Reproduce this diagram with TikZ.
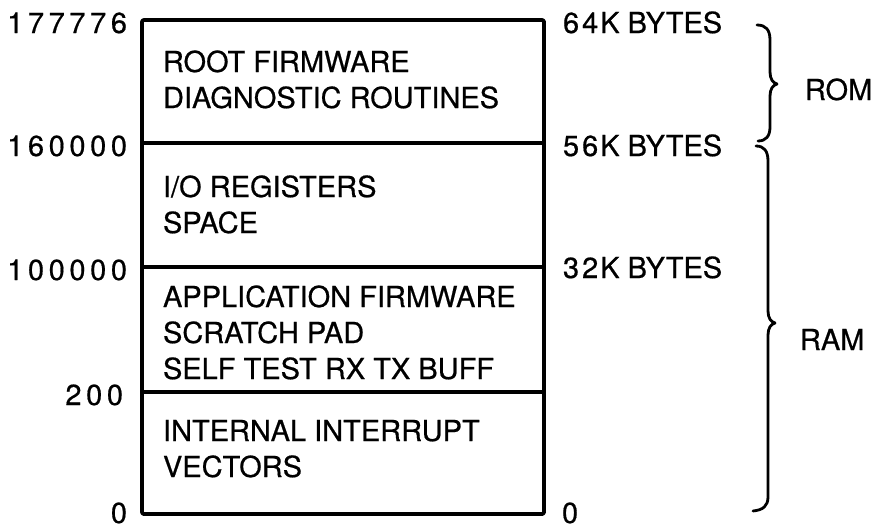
\documentclass[tikz,border=0pt]{standalone}
\usepackage{fontspec}
\setmainfont{TeX Gyre Heros}[FakeBold=0.6]
\makeatletter
% digits of the addresses are set with a little extra tracking
\newcommand\widenum[1]{\def\wn@sep{}\@tfor\wn@d:=#1\do{\wn@sep\wn@d\def\wn@sep{\kern4.6pt}}}
\makeatother
\newcommand\kb[2]{#1\kern3pt#2\kern2pt K BYTES}
\begin{document}
\begin{tikzpicture}[x=1pt,y=-1pt,
  every node/.style={inner sep=0pt,outer sep=0pt,font=\fontsize{29}{36}\selectfont},
  frame/.style={line width=3.8pt,line join=round,line cap=round},
  bracepath/.style={line width=2.8pt,line cap=round,line join=round},
  addr/.style={anchor=base east},
  size/.style={anchor=base west},
  region/.style={anchor=base west,align=left},
]
\useasboundingbox (0,0) rectangle (873,528);

% memory map boundaries (top to bottom)
\coordinate (a0) at (142,20);  \coordinate (b0) at (544,20);
\coordinate (a1) at (142,143); \coordinate (b1) at (544,143);
\coordinate (a2) at (142,267); \coordinate (b2) at (544,267);
\coordinate (a3) at (142,392); \coordinate (b3) at (544,392);
\coordinate (a4) at (142,514); \coordinate (b4) at (544,514);

\draw[frame,rounded corners=2pt] (a0) -- (b0) -- (b4) -- (a4) -- cycle;
\draw[frame] (a1) -- (b1);
\draw[frame] (a2) -- (b2);
\draw[frame] (a3) -- (b3);

% octal addresses on the left
\node[addr] (adr0) at (127,33)  {\widenum{177776}};
\node[addr] (adr1) at (127,156) {\widenum{160000}};
\node[addr] (adr2) at (127,280) {\widenum{100000}};
\node[addr] (adr3) at (123,405) {\widenum{200}};
\node[addr] (adr4) at (127,523) {0};

% byte sizes on the right
\node[size] (sz0) at (563,33)  {\kb{6}{4}};
\node[size] (sz1) at (563,156) {\kb{5}{6}};
\node[size] (sz2) at (563,278) {\kb{3}{2}};
\node[size] (sz3) at (562,523) {0};

% contents of each region (anchored on the baseline of the last line)
\node[region] (r0) at (163,108) {ROOT FIRMWARE\\DIAGNOSTIC ROUTINES};
\node[region] (r1) at (163,233) {I/O REGISTERS\\SPACE};
\node[region] (r2) at (163,379) {APPLICATION FIRMWARE\\SCRATCH PAD\\SELF TEST RX TX BUFF};
\node[region] (r3) at (163,477) {INTERNAL INTERRUPT\\VECTORS};

% ROM brace
\draw[bracepath] (757,25) .. controls (766,25) and (770,30) .. (770,40)
  -- (770,72) .. controls (770,79) and (773,83) .. (777,84)
  .. controls (773,85) and (770,89) .. (770,96)
  -- (770,127) .. controls (770,136) and (766,141) .. (758,141);
\node[anchor=base west] (rom) at (805,100) {ROM};

% RAM brace
\draw[bracepath] (756,146) .. controls (764,146) and (768,151) .. (768,161)
  -- (768,311) .. controls (768,318) and (771,322) .. (775,323)
  .. controls (771,324) and (768,328) .. (768,335)
  -- (768,497) .. controls (768,506) and (763,510) .. (753,511);
\node[anchor=base west] (ram) at (800,350) {RAM};
\end{tikzpicture}
\end{document}
